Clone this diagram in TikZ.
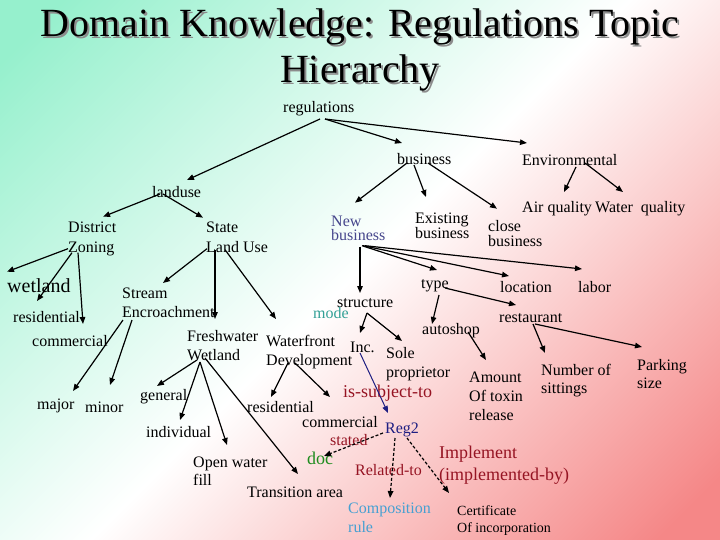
\documentclass[tikz,border=0pt]{standalone}
\usepackage{fontspec}
\setmainfont{Liberation Serif}
\usetikzlibrary{arrows.meta}
\definecolor{mint}{RGB}{150,240,205}
\definecolor{salmon}{RGB}{245,135,135}
\definecolor{slate}{RGB}{70,70,140}
\definecolor{tealc}{RGB}{50,160,150}
\definecolor{dred}{RGB}{150,20,35}
\definecolor{navyc}{RGB}{30,30,130}
\definecolor{docgreen}{RGB}{30,140,30}
\definecolor{compblue}{RGB}{70,160,210}
\pgfdeclarehorizontalshading{bgshade}{100bp}{color(0bp)=(mint); color(18bp)=(mint); color(50bp)=(white); color(82bp)=(salmon); color(100bp)=(salmon)}
\newcommand{\fs}[2]{\fontsize{#1}{#2}\selectfont\lineskiplimit=-30pt\relax}
\begin{document}
\begin{tikzpicture}[x=1pt,y=-1pt,
  lbl/.style={inner sep=0pt, anchor=base west, font=\fs{16}{19}, align=left},
  conn/.style={line width=1.2pt, -{Triangle[length=7pt,width=5.5pt]}},
  dconn/.style={conn, dash pattern=on 3pt off 2pt}]
\shade[shading=bgshade, shading angle=-45] (0,0) rectangle (720,540);
\useasboundingbox (0,0) rectangle (720,540);

% title (base anchor = baseline of the last line)
\node[inner sep=0pt, anchor=base, align=center, font=\fs{40}{46}, text=black!45] (titleshadow) at (362,85) {Domain Knowledge: Regulations Topic\\Hierarchy};
\node[inner sep=0pt, anchor=base, align=center, font=\fs{40}{46}, text=black] (title) at (360,83) {Domain Knowledge: Regulations Topic\\Hierarchy};

% nodes (multi-line nodes are placed by the baseline of their last line)
\node[lbl] (reg) at (283,113) {regulations};
\node[lbl] (bus) at (397,165) {business};
\node[lbl] (env) at (522,166) {Environmental};
\node[lbl] (land) at (152,197) {landuse};
\node[lbl, font=\fs{16}{19.5}] (dist) at (68,252.2) {District\\Zoning};
\node[lbl, font=\fs{16}{19.5}] (state) at (206,252.2) {State\\Land Use};
\node[lbl, font=\fs{16}{13.5}, text=slate] (newb) at (331,240.2) {New\\business};
\node[lbl, font=\fs{16}{14}] (exist) at (415,238) {Existing\\business};
\node[lbl, font=\fs{16}{15}] (close) at (488,246.7) {close\\business};
\node[lbl] (air) at (522,213) {Air quality};
\node[lbl] (water) at (595,213) {Water~ quality};
\node[lbl, font=\fs{20}{24}] (wet) at (7,292.7) {wetland};
\node[lbl] (res1) at (13,322) {residential};
\node[lbl] (com1) at (32,346) {commercial};
\node[lbl] (stream) at (122,317) {Stream\\Encroachment};
\node[lbl] (fresh) at (187,360) {Freshwater\\Wetland};
\node[lbl] (wfront) at (266,365) {Waterfront\\Development};
\node[lbl] (major) at (37,409) {major};
\node[lbl] (minor) at (85,412) {minor};
\node[lbl] (gen) at (140,400) {general};
\node[lbl] (res2) at (247,412) {residential};
\node[lbl] (indiv) at (146,437) {individual};
\node[lbl] (com2) at (302,427) {commercial};
\node[lbl, font=\fs{16}{18}] (open) at (193,485) {Open water\\fill};
\node[lbl] (trans) at (247,497) {Transition area};
\node[lbl] (struct) at (337,307) {structure};
\node[lbl, text=tealc] (mode) at (313,318) {mode};
\node[lbl] (type) at (421,288) {type};
\node[lbl] (loc) at (500,292) {location};
\node[lbl] (labor) at (578,292) {labor};
\node[lbl] (rest) at (499,322) {restaurant};
\node[lbl] (auto) at (422,334) {autoshop};
\node[lbl] (inc) at (350,352) {Inc.};
\node[lbl] (sole) at (386,377) {Sole\\proprietor};
\node[lbl, font=\fs{18}{21}, text=dred] (issub) at (343,397) {is-subject-to};
\node[lbl] (amount) at (469,420) {Amount\\Of toxin\\release};
\node[lbl, font=\fs{16}{18}] (number) at (541,393) {Number of\\sittings};
\node[lbl, font=\fs{16}{18}] (park) at (637,388) {Parking\\size};
\node[lbl, text=navyc] (reg2) at (385,433) {Reg2};
\node[lbl, text=dred] (stated) at (330,445) {stated};
\node[lbl, font=\fs{18}{21}, text=docgreen] (doc) at (307,464) {doc};
\node[lbl, text=dred] (rel) at (355,475) {Related-to};
\node[lbl, font=\fs{18}{22}, text=dred] (impl) at (439,480) {Implement\\(implemented-by)};
\node[lbl, text=compblue] (comp) at (348,532) {Composition\\rule};
\node[lbl, font=\fs{14}{17}] (cert) at (457,532) {Certificate\\Of incorporation};

% connectors
\draw[conn] ([shift={(37,6)}]reg.base west) -- ([shift={(35,-17)}]land.base west);
\draw[conn] ([shift={(42,6)}]reg.base west) -- ([shift={(5,-22)}]bus.base west);
\draw[conn] ([shift={(42,6)}]reg.base west) -- ([shift={(5,-23)}]env.base west);
\draw[conn] ([shift={(8,-3)}]land.base west) -- ([shift={(35,-35.5)}]dist.base west);
\draw[conn] ([shift={(11,-3)}]land.base west) -- ([shift={(-3,-34.5)}]state.base west);
\draw[conn] ([shift={(0,-3.5)}]dist.base west) -- ([shift={(0,-21)}]wet.base west);
\draw[conn] ([shift={(4,0.5)}]dist.base west) -- ([shift={(24,-21)}]res1.base west);
\draw[conn] ([shift={(10,0.5)}]dist.base west) -- ([shift={(51,-22)}]com1.base west);
\draw[conn] ([shift={(1,-3.5)}]state.base west) -- ([shift={(41,-34)}]stream.base west);
\draw[conn] ([shift={(9,-2.5)}]state.base west) -- ([shift={(28,-41)}]fresh.base west);
\draw[conn] ([shift={(19,-2.5)}]state.base west) -- ([shift={(10,-46)}]wfront.base west);
\draw[conn] ([shift={(1,3)}]stream.base west) -- ([shift={(36,-18)}]major.base west);
\draw[conn] ([shift={(10,3)}]stream.base west) -- ([shift={(25,-27)}]minor.base west);
\draw[conn] ([shift={(10,0)}]fresh.base west) -- ([shift={(17,-14)}]gen.base west);
\draw[conn] ([shift={(13,2)}]fresh.base west) -- ([shift={(34,-17)}]indiv.base west);
\draw[conn] ([shift={(13,2)}]fresh.base west) -- ([shift={(34,-40)}]open.base west);
\draw[conn] ([shift={(18,-2)}]fresh.base west) -- ([shift={(51,-23)}]trans.base west);
\draw[conn] ([shift={(22,-2)}]wfront.base west) -- ([shift={(24,-15)}]res2.base west);
\draw[conn] ([shift={(29,-2)}]wfront.base west) -- ([shift={(28,-30)}]com2.base west);
\draw[conn] ([shift={(10,-2)}]bus.base west) -- ([shift={(24,-37.5)}]newb.base west);
\draw[conn] ([shift={(17,0)}]bus.base west) -- ([shift={(11,-41)}]exist.base west);
\draw[conn] ([shift={(31,-2)}]bus.base west) -- ([shift={(9,-38)}]close.base west);
\draw[conn] ([shift={(54,1)}]env.base west) -- ([shift={(42,-21)}]air.base west);
\draw[conn] ([shift={(63,-3)}]env.base west) -- ([shift={(28,-21)}]water.base west);
\draw[conn] ([shift={(29,6.5)}]newb.base west) -- ([shift={(23,-14)}]struct.base west);
\draw[conn] ([shift={(31,5.5)}]newb.base west) -- ([shift={(16,-18)}]type.base west);
\draw[conn] ([shift={(32,5.5)}]newb.base west) -- ([shift={(9,-16)}]loc.base west);
\draw[conn] ([shift={(34,5.5)}]newb.base west) -- ([shift={(4,-23)}]labor.base west);
\draw[conn] ([shift={(30,6)}]struct.base west) -- ([shift={(10,-19)}]inc.base west);
\draw[conn] ([shift={(30,6)}]struct.base west) -- ([shift={(16,-36)}]sole.base west);
\draw[conn] ([shift={(18,7)}]type.base west) -- ([shift={(10,-10)}]auto.base west);
\draw[conn] ([shift={(24,0)}]type.base west) -- ([shift={(17,-17)}]rest.base west);
\draw[conn] ([shift={(46,-2)}]auto.base west) -- ([shift={(17,-60)}]amount.base west);
\draw[conn] ([shift={(34,2)}]rest.base west) -- ([shift={(4,-40)}]number.base west);
\draw[conn] ([shift={(36,2)}]rest.base west) -- ([shift={(5,-41)}]park.base west);
\draw[conn, navyc, line width=1pt] ([shift={(10,1)}]inc.base west) -- ([shift={(3,-20)}]reg2.base west);
\draw[dconn] ([shift={(-2,0)}]reg2.base west) -- ([shift={(17,-8)}]doc.base west);
\draw[dconn] ([shift={(10,5)}]reg2.base west) -- ([shift={(42,-34)}]comp.base west);
\draw[dconn] ([shift={(22,5)}]reg2.base west) -- ([shift={(-8,-39)}]cert.base west);
\end{tikzpicture}
\end{document}
